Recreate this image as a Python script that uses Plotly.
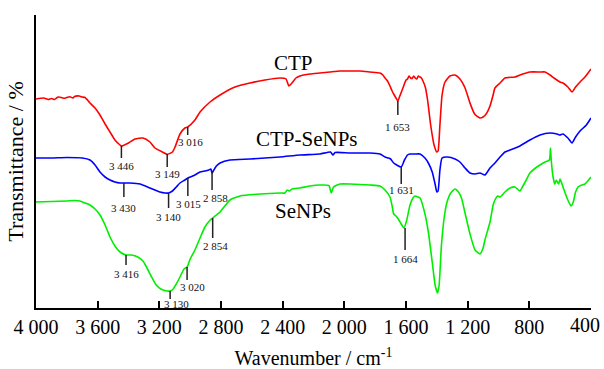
import plotly.graph_objects as go

# ---------------- data (wavenumber cm-1, offset transmittance a.u.) ----------------
ctp_wn = [4000, 3950, 3920, 3900, 3880, 3860, 3850, 3820, 3800, 3780, 3760, 3750, 3720, 3700, 3682,
          3650, 3617, 3585, 3552, 3520, 3488, 3455, 3446, 3400, 3358, 3306, 3261, 3228, 3180, 3149,
          3115, 3098, 3066, 3034, 3016, 2969, 2936, 2871, 2806, 2709, 2612, 2515, 2417, 2378, 2360,
          2340, 2314, 2288, 2223, 2158, 2093, 2028, 1963, 1898, 1834, 1769, 1750, 1736, 1720, 1704,
          1690, 1680, 1665, 1653, 1640, 1620, 1600, 1590, 1580, 1570, 1560, 1550, 1540, 1530, 1520,
          1509, 1500, 1490, 1475, 1460, 1440, 1418, 1400, 1392, 1380, 1366, 1347, 1315, 1282, 1250,
          1217, 1185, 1155, 1120, 1100, 1080, 1055, 1035, 1023, 990, 958, 893, 860, 796, 731,
          698, 666, 640, 601, 582, 550, 523, 500, 471, 439, 419, 400]
ctp_t = [221, 222, 220.5, 221.5, 220.5, 222.8, 223, 221.8, 222.5, 223.2, 222, 223.5, 224, 223, 222.5,
         217, 212, 205, 196, 188, 180, 175, 174, 177, 181, 182, 178, 172, 168, 165.7,
         168, 173, 186, 192, 193, 200, 208, 218, 225, 233, 237, 240, 242, 241, 234,
         237, 242, 244, 246, 247, 248, 249, 249, 249, 248, 247, 245, 242, 239, 234,
         229, 226, 222, 219, 224, 232, 240, 241, 244, 242, 241.5, 244, 242, 241, 244,
         243, 242, 239, 233, 220, 195, 175, 168, 169, 195, 225, 238, 244, 245, 241,
         232, 217, 206, 202, 203, 206, 214, 225, 232, 237, 242, 243, 245, 248, 248,
         248, 245, 242, 238, 237, 233, 228, 233, 238, 243, 247, 251]

ctpse_wn = [4000, 3900, 3800, 3700, 3650, 3617, 3585, 3552, 3520, 3488, 3455, 3430, 3390, 3325, 3261,
            3196, 3163, 3140, 3115, 3090, 3066, 3034, 3015, 2969, 2936, 2904, 2880, 2866, 2858, 2850,
            2830, 2806, 2742, 2612, 2417, 2288, 2158, 2090, 2074, 2060, 1963, 1834, 1769, 1736, 1715,
            1700, 1680, 1660, 1631, 1610, 1590, 1574, 1542, 1509, 1477, 1455, 1430, 1410, 1400, 1392,
            1380, 1366, 1330, 1282, 1250, 1217, 1185, 1152, 1120, 1088, 1055, 1023, 990, 958, 925,
            861, 796, 731, 666, 620, 601, 582, 550, 523, 500, 471, 430, 400]
ctpse_t = [162, 162, 162.5, 162, 160, 155, 148, 143, 140, 138, 137, 137, 137, 136, 132,
           128, 127, 127, 129, 133, 137, 140, 142, 145, 148, 149, 150, 151, 147, 149,
           154, 157, 160, 161, 163, 165, 166, 168, 165, 167.5, 167, 167, 166, 163, 162,
           161, 157, 155, 153, 160, 165, 166, 166, 166, 162, 157, 148, 135, 128, 129,
           150, 162, 163, 161, 158, 152, 147, 146, 147, 145, 152, 157, 163, 168, 170,
           174, 180, 185, 187, 186, 185, 186, 182, 177, 183, 189, 195, 202]

se_wn = [4000, 3900, 3800, 3750, 3715, 3682, 3650, 3617, 3585, 3552, 3520, 3488, 3455, 3416, 3380,
         3340, 3306, 3280, 3250, 3220, 3190, 3150, 3130, 3110, 3090, 3066, 3040, 3020, 3000, 2969,
         2936, 2904, 2870, 2854, 2830, 2806, 2770, 2742, 2677, 2547, 2417, 2385, 2370, 2355, 2340,
         2288, 2223, 2160, 2100, 2085, 2070, 2028, 1963, 1834, 1769, 1736, 1704, 1690, 1680, 1665,
         1650, 1635, 1613, 1595, 1574, 1555, 1542, 1509, 1480, 1455, 1430, 1410, 1395, 1385, 1370,
         1350, 1330, 1310, 1282, 1260, 1240, 1217, 1185, 1152, 1120, 1100, 1088, 1055, 1035, 1023,
         1005, 990, 958, 925, 893, 861, 845, 820, 796, 760, 731, 698, 670, 663, 658,
         646, 635, 625, 610, 601, 590, 575, 550, 530, 515, 500, 484, 460, 439, 400]
se_t = [118, 118.5, 119, 119.5, 119, 117, 115, 111, 105, 95, 83, 74, 68, 65, 65,
        63, 59, 52, 43, 35, 31, 29, 29, 31, 36, 43, 51, 53, 61, 70,
        82, 93, 100, 102, 105, 108, 115, 120, 124, 126, 127, 127, 130, 129, 131,
        132, 134, 135, 134.5, 127, 133, 136, 136, 135, 134, 130, 123, 114, 106, 104,
        101, 97, 92, 100, 115, 122, 124, 122, 108, 88, 58, 34, 27, 35, 75,
        105, 120, 127, 131, 128, 122, 107, 86, 70, 66, 72, 80, 98, 115, 120,
        124, 123, 128, 132, 133, 129, 133, 140, 147, 152, 155, 158, 160, 172, 160,
        143, 136, 140, 136, 141, 137, 130, 120, 114, 118, 128, 133, 135, 136, 143]

# peak markers: position (cm-1), line top, line bottom, label y, label text, label x shift
ctp_pk_wn = [3446, 3149, 3016, 1653]
ctp_pk_top = [174, 166, 193, 219]
ctp_pk_bot = [162, 153, 185, 205]
ctp_pk_lab = [154, 146, 178, 193]
ctp_pk_txt = ["3 446", "3 149", "3 016", "1 653"]
ctp_pk_dx = [0, 0, 3, 0]

ctpse_pk_wn = [3430, 3140, 3015, 2858, 1631]
ctpse_pk_top = [137, 127, 142, 148, 153]
ctpse_pk_bot = [123, 112, 124, 130, 136]
ctpse_pk_lab = [112, 103.5, 116, 122, 130]
ctpse_pk_txt = ["3 430", "3 140", "3 015", "2 858", "1 631"]
ctpse_pk_dx = [0, 0, 1, 3, 0]

se_pk_wn = [3416, 3130, 3020, 2854, 1606]
se_pk_top = [65, 29, 53, 102, 92]
se_pk_bot = [55, 21, 40, 82, 70]
se_pk_lab = [46, 16, 33, 74, 61]
se_pk_txt = ["3 416", "3 130", "3 020", "2 854", "1 664"]
se_pk_dx = [0, 6, 5, 3, 0]

series_names = ["CTP", "CTP-SeNPs", "SeNPs"]
series_colors = ["#ff0000", "#0000ff", "#00ee00"]
name_wn = [2333, 2242, 2268]
name_t = [257, 181, 109]

tick_vals = [4000, 3600, 3200, 2800, 2400, 2000, 1600, 1200, 800, 400]
tick_text = ["4 000", "3 600", "3 200", "2 800", "2 400", "2 000", "1 600", "1 200", "800", "400"]

FONT = "Liberation Serif"

fig = go.Figure()
for wn, t, c in [(ctp_wn, ctp_t, series_colors[0]),
                 (ctpse_wn, ctpse_t, series_colors[1]),
                 (se_wn, se_t, series_colors[2])]:
    fig.add_trace(go.Scatter(x=wn, y=t, mode="lines",
                             line=dict(color=c, width=1.6, shape="spline", smoothing=0.5),
                             showlegend=False, hoverinfo="skip"))

for pw, top, bot, lab, txt, dx in [
        (ctp_pk_wn, ctp_pk_top, ctp_pk_bot, ctp_pk_lab, ctp_pk_txt, ctp_pk_dx),
        (ctpse_pk_wn, ctpse_pk_top, ctpse_pk_bot, ctpse_pk_lab, ctpse_pk_txt, ctpse_pk_dx),
        (se_pk_wn, se_pk_top, se_pk_bot, se_pk_lab, se_pk_txt, se_pk_dx)]:
    for w, a, b, l, s, d in zip(pw, top, bot, lab, txt, dx):
        fig.add_shape(type="line", xref="x", yref="y", x0=w, x1=w, y0=a, y1=b,
                      line=dict(color="#222222", width=1.5))
        fig.add_annotation(x=w, y=l, text=s, showarrow=False, xshift=d,
                           font=dict(family=FONT, size=11, color="#111111"),
                           xanchor="center", yanchor="middle")

for n, w, t in zip(series_names, name_wn, name_t):
    fig.add_annotation(x=w, y=t, text=n, showarrow=False,
                       font=dict(family=FONT, size=21, color="black"),
                       xanchor="center", yanchor="middle")

# last tick label sits against the right edge: draw it right-aligned so it stays inside
axis_text = tick_text[:-1] + [""]
fig.add_annotation(x=tick_vals[-1], xref="x", y=0, yref="paper", text=tick_text[-1],
                   showarrow=False, xanchor="right", yanchor="top", xshift=11, yshift=-4,
                   font=dict(family=FONT, size=20, color="black"))

fig.update_layout(
    width=604, height=369,
    margin=dict(l=36, r=13, t=15, b=61, autoexpand=False),
    paper_bgcolor="white", plot_bgcolor="white",
    font=dict(family=FONT, color="black"),
    xaxis=dict(range=[4000, 400], tickvals=tick_vals, ticktext=axis_text,
               ticks="inside", ticklen=7, tickwidth=1.5, tickcolor="black",
               showline=True, linecolor="black", linewidth=1.5,
               showgrid=False, zeroline=False, ticklabelstandoff=0,
               ticklabeloverflow="allow", automargin=False,
               tickfont=dict(family=FONT, size=20, color="black"),
               title=dict(text="Wavenumber / cm<sup>-1</sup>", standoff=16,
                          font=dict(family=FONT, size=20, color="black"))),
    yaxis=dict(range=[12, 305], showline=True, linecolor="black", linewidth=1.5,
               showticklabels=False, ticks="", showgrid=False, zeroline=False,
               automargin=False,
               title=dict(text="Transmittance / %", standoff=5,
                          font=dict(family=FONT, size=22, color="black"))),
)

fig.write_html("out.html")
